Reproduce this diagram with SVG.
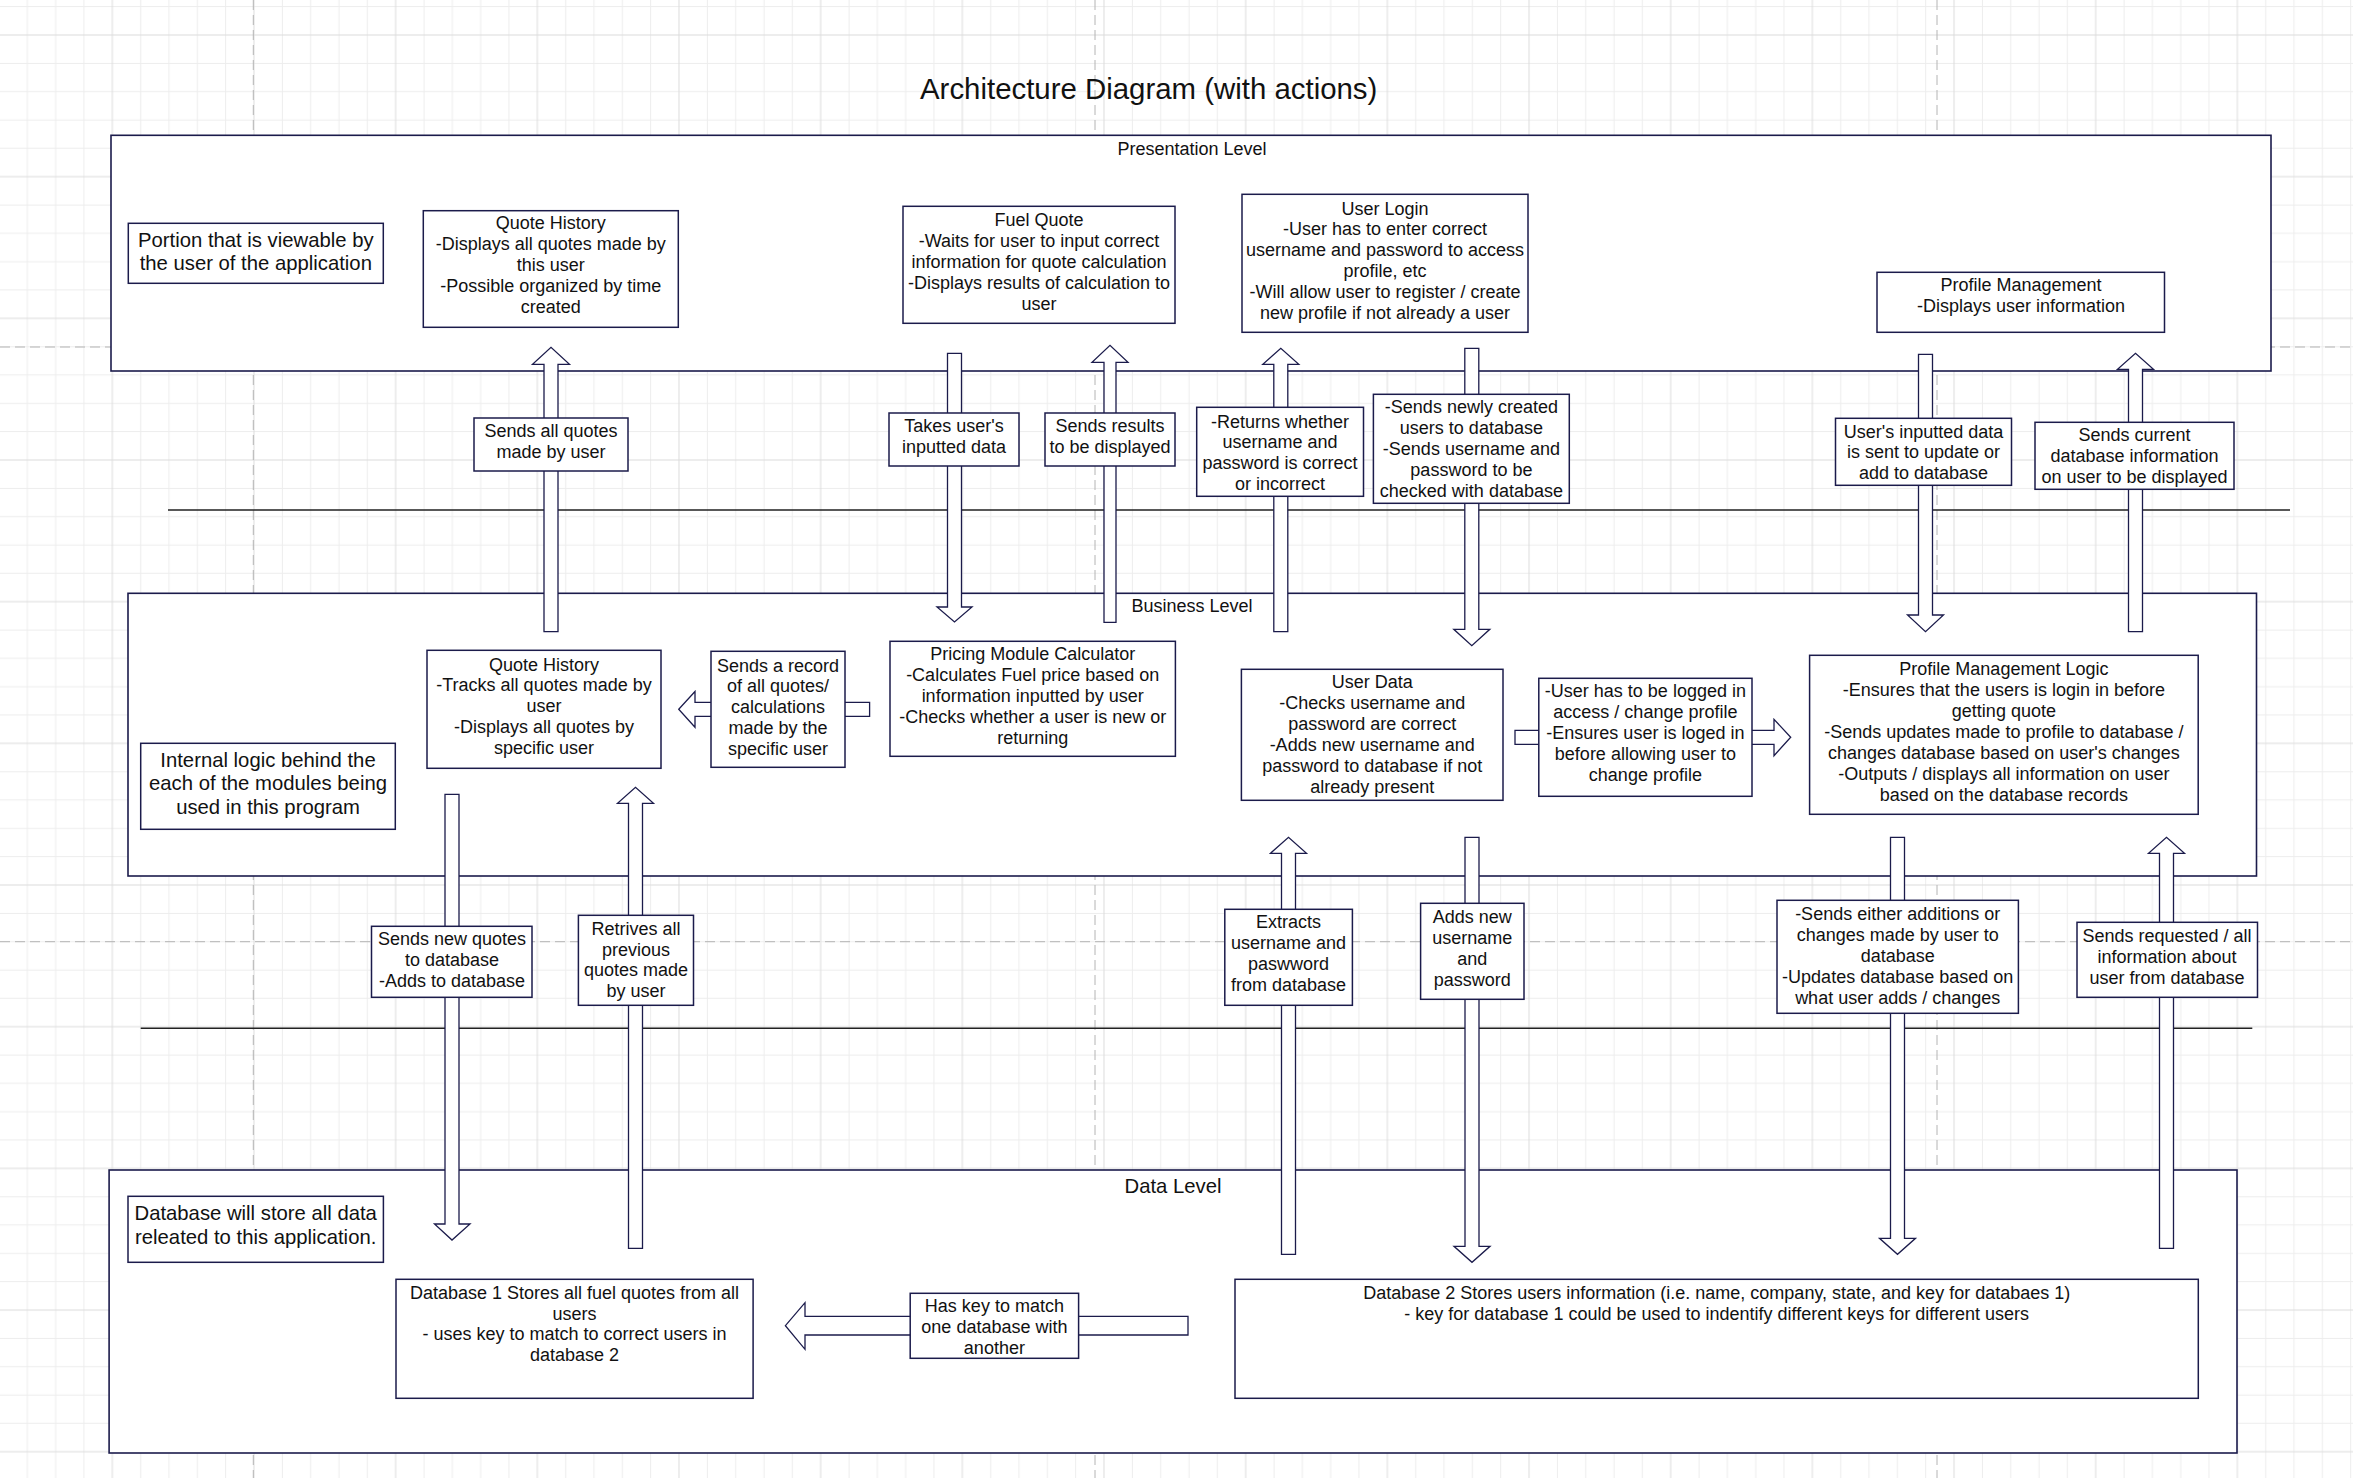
<svg xmlns="http://www.w3.org/2000/svg" width="2353" height="1478" viewBox="0 0 2353 1478">
<style>
.t{font-family:"Liberation Sans",Arial,Helvetica,sans-serif;font-size:18px;fill:#111;text-anchor:middle}
.tb{font-size:20.3px}
.box{fill:#fff;stroke:#1b1b4b;stroke-width:1.5}
.cont{fill:#fff;stroke:#1b1b4b;stroke-width:1.6}
.arr{fill:#fff;stroke:#1b1b4b;stroke-width:1.3;stroke-linejoin:miter}
.sep{stroke:#222;stroke-width:1.5;fill:none}
.page{stroke:#b4b4b4;stroke-width:1;stroke-dasharray:10 5;fill:none}
</style>
<defs>
<pattern id="grid" patternUnits="userSpaceOnUse" x="41.5" y="-35.83" width="141.67" height="141.67">
<path d="M14.17 0V141.67M42.5 0V141.67M99.17 0V141.67M127.5 0V141.67M0 14.17H141.67M0 42.5H141.67M0 99.17H141.67M0 127.5H141.67" stroke="#ededed" stroke-width="1" fill="none"/>
<path d="M70.83 0V141.67M0 70.83H141.67" stroke="#dcdcdc" stroke-width="1" fill="none"/>
</pattern>
</defs>
<rect width="2353" height="1478" fill="#fff"/>
<rect width="2353" height="1478" fill="url(#grid)"/>
<g id="page-breaks">
<path class="page" d="M253.3 0V1478M1095 0V1478M1937 0V1478M0 347H2353M0 941.7H2353"/>
</g>
<text class="t" x="1148.7" y="99" style="font-size:29.4px">Architecture Diagram (with actions)</text>

<g id="presentation-level">
<rect class="cont" x="111" y="135.3" width="2160" height="235.7"/>
<text class="t" x="1192" y="155">Presentation Level</text>
</g>
<g id="business-level">
<rect class="cont" x="128" y="593.3" width="2128.5" height="282.7"/>
<text class="t" x="1192" y="612.3">Business Level</text>
</g>
<g id="data-level">
<rect class="cont" x="109.1" y="1170" width="2127.9" height="283"/>
<text class="t tb" x="1173" y="1193">Data Level</text>
</g>

<g id="separators">
<path class="sep" d="M168 510H2290M140.7 1028.3H2252.3"/>
</g>

<g id="connectors">
<g id="c-sends-all-quotes">
<path class="arr" d="M544,631.7V364.3H532.5L551,347.3L569.5,364.3H558V631.7Z"/>
<rect class="box" x="474" y="418" width="154" height="53"/>
<text class="t"><tspan x="551" y="437.3">Sends all quotes</tspan><tspan x="551" y="458.3">made by user</tspan></text>
</g>
<g id="c-takes-input">
<path class="arr" d="M947.5,353.3V607H937L954.5,622L972,607H961.5V353.3Z"/>
<rect class="box" x="889" y="413" width="130" height="53"/>
<text class="t"><tspan x="954" y="432.3">Takes user's</tspan><tspan x="954" y="453.1">inputted data</tspan></text>
</g>
<g id="c-sends-results">
<path class="arr" d="M1104,622.3V362.3H1092L1110,345.3L1128,362.3H1116V622.3Z"/>
<rect class="box" x="1045" y="413" width="130" height="53"/>
<text class="t"><tspan x="1110" y="432.3">Sends results</tspan><tspan x="1110" y="453.1">to be displayed</tspan></text>
</g>
<g id="c-returns-whether">
<path class="arr" d="M1273.8,631.7V364.3H1262.8L1280.8,348.3L1298.8,364.3H1287.8V631.7Z"/>
<rect class="box" x="1196.7" y="407.3" width="166.8" height="89"/>
<text class="t"><tspan x="1280" y="427.6">-Returns whether</tspan><tspan x="1280" y="448.4">username and</tspan><tspan x="1280" y="469.2">password is correct</tspan><tspan x="1280" y="490">or incorrect</tspan></text>
</g>
<g id="c-sends-new-users">
<path class="arr" d="M1464.8,348.3V629.3H1453.8L1471.8,645.7L1489.8,629.3H1478.8V348.3Z"/>
<rect class="box" x="1373.4" y="394.3" width="195.9" height="109"/>
<text class="t"><tspan x="1471.4" y="413.3">-Sends newly created</tspan><tspan x="1471.4" y="434.1">users to database</tspan><tspan x="1471.4" y="454.9">-Sends username and</tspan><tspan x="1471.4" y="475.7">password to be</tspan><tspan x="1471.4" y="496.5">checked with database</tspan></text>
</g>
<g id="c-user-input-update">
<path class="arr" d="M1918.5,354.3V615H1907.5L1925.5,631.7L1943.5,615H1932.5V354.3Z"/>
<rect class="box" x="1835.5" y="418.3" width="176" height="67"/>
<text class="t"><tspan x="1923.5" y="437.6">User's inputted data</tspan><tspan x="1923.5" y="458.4">is sent to update or</tspan><tspan x="1923.5" y="479.2">add to database</tspan></text>
</g>
<g id="c-sends-current">
<path class="arr" d="M2128.5,631.7V369.3H2117.5L2135.5,353.3L2153.5,369.3H2142.5V631.7Z"/>
<rect class="box" x="2035" y="422.3" width="199" height="67"/>
<text class="t"><tspan x="2134.5" y="441.3">Sends current</tspan><tspan x="2134.5" y="462.1">database information</tspan><tspan x="2134.5" y="482.9">on user to be displayed</tspan></text>
</g>
<g id="c-sends-record">
<path class="arr" d="M869.6,702.3H695V691.5L678.7,709.3L695,727.3V716.3H869.6Z"/>
<rect class="box" x="711" y="651.3" width="134" height="116"/>
<text class="t"><tspan x="778" y="671.6">Sends a record</tspan><tspan x="778" y="692.4">of all quotes/</tspan><tspan x="778" y="713.2">calculations</tspan><tspan x="778" y="734">made by the</tspan><tspan x="778" y="754.8">specific user</tspan></text>
</g>
<g id="c-login-required">
<path class="arr" d="M1515,730.3H1774V719.3L1790.7,737.3L1774,755.7V744.3H1515Z"/>
<rect class="box" x="1538.8" y="678.3" width="213.2" height="118"/>
<text class="t"><tspan x="1645.4" y="697.3">-User has to be logged in</tspan><tspan x="1645.4" y="718.3">access / change profile</tspan><tspan x="1645.4" y="739.3">-Ensures user is loged in</tspan><tspan x="1645.4" y="760.3">before allowing user to</tspan><tspan x="1645.4" y="781.3">change profile</tspan></text>
</g>
<g id="c-sends-new-quotes">
<path class="arr" d="M445,794.3V1224H434.5L452,1240L470,1224H459V794.3Z"/>
<rect class="box" x="371.5" y="926.3" width="160.5" height="71"/>
<text class="t"><tspan x="452" y="945.3">Sends new quotes</tspan><tspan x="452" y="966.3">to database</tspan><tspan x="452" y="987.3">-Adds to database</tspan></text>
</g>
<g id="c-retrives">
<path class="arr" d="M628.5,1248.3V803.3H617.5L635.5,787.3L653.5,803.3H642.5V1248.3Z"/>
<rect class="box" x="578.4" y="915.3" width="115.1" height="90"/>
<text class="t"><tspan x="636" y="934.6">Retrives all</tspan><tspan x="636" y="955.5">previous</tspan><tspan x="636" y="976.4">quotes made</tspan><tspan x="636" y="997.3">by user</tspan></text>
</g>
<g id="c-extracts">
<path class="arr" d="M1281.5,1254.3V853.3H1270.5L1288.5,837.3L1306.5,853.3H1295.5V1254.3Z"/>
<rect class="box" x="1224.8" y="909.3" width="127.6" height="96"/>
<text class="t"><tspan x="1288.6" y="928">Extracts</tspan><tspan x="1288.6" y="949">username and</tspan><tspan x="1288.6" y="970">paswword</tspan><tspan x="1288.6" y="991">from database</tspan></text>
</g>
<g id="c-adds-new-username">
<path class="arr" d="M1465,837.3V1246.3H1454L1472,1262.3L1490,1246.3H1479V837.3Z"/>
<rect class="box" x="1420.6" y="903.3" width="103.4" height="96"/>
<text class="t"><tspan x="1472.3" y="923.3">Adds new</tspan><tspan x="1472.3" y="944.3">username</tspan><tspan x="1472.3" y="965.3">and</tspan><tspan x="1472.3" y="986.3">password</tspan></text>
</g>
<g id="c-sends-either">
<path class="arr" d="M1890.5,837.3V1238.3H1879.5L1897.5,1254.3L1915.5,1238.3H1904.5V837.3Z"/>
<rect class="box" x="1777" y="900.3" width="241.4" height="113"/>
<text class="t"><tspan x="1897.7" y="919.6">-Sends either additions or</tspan><tspan x="1897.7" y="940.6">changes made by user to</tspan><tspan x="1897.7" y="961.6">database</tspan><tspan x="1897.7" y="982.6">-Updates database based on</tspan><tspan x="1897.7" y="1003.6">what user adds / changes</tspan></text>
</g>
<g id="c-sends-requested">
<path class="arr" d="M2159.5,1248.3V853.3H2148.5L2166.5,837.3L2184.5,853.3H2173.5V1248.3Z"/>
<rect class="box" x="2077" y="922.3" width="180.5" height="75"/>
<text class="t"><tspan x="2167" y="942.3">Sends requested / all</tspan><tspan x="2167" y="963.3">information about</tspan><tspan x="2167" y="984.3">user from database</tspan></text>
</g>
<g id="c-has-key">
<path class="arr" d="M1188,1316.3H805V1302.7L785.4,1325.7L805,1349.3V1335H1188Z"/>
<rect class="box" x="910.2" y="1293.3" width="168.4" height="65"/>
<text class="t"><tspan x="994.4" y="1312">Has key to match</tspan><tspan x="994.4" y="1333">one database with</tspan><tspan x="994.4" y="1354">another</tspan></text>
</g>
</g>

<g id="n-portion-viewable">
<rect class="box" x="128.3" y="223.3" width="255" height="60"/>
<text class="t tb"><tspan x="255.8" y="246.7">Portion that is viewable by</tspan><tspan x="255.8" y="270">the user of the application</tspan></text>
</g>
<g id="n-quote-history-ui">
<rect class="box" x="423.3" y="210.7" width="255" height="116.6"/>
<text class="t"><tspan x="550.8" y="229.3">Quote History</tspan><tspan x="550.8" y="250.1">-Displays all quotes made by</tspan><tspan x="550.8" y="270.9">this user</tspan><tspan x="550.8" y="291.7">-Possible organized by time</tspan><tspan x="550.8" y="312.5">created</tspan></text>
</g>
<g id="n-fuel-quote">
<rect class="box" x="903" y="206.3" width="272" height="117"/>
<text class="t"><tspan x="1039" y="226.4">Fuel Quote</tspan><tspan x="1039" y="247.2">-Waits for user to input correct</tspan><tspan x="1039" y="268">information for quote calculation</tspan><tspan x="1039" y="288.8">-Displays results of calculation to</tspan><tspan x="1039" y="309.6">user</tspan></text>
</g>
<g id="n-user-login">
<rect class="box" x="1242" y="194.3" width="286" height="138"/>
<text class="t"><tspan x="1385" y="214.6">User Login</tspan><tspan x="1385" y="235.4">-User has to enter correct</tspan><tspan x="1385" y="256.2">username and password to access</tspan><tspan x="1385" y="277">profile, etc</tspan><tspan x="1385" y="297.8">-Will allow user to register / create</tspan><tspan x="1385" y="318.6">new profile if not already a user</tspan></text>
</g>
<g id="n-profile-management">
<rect class="box" x="1877" y="272.3" width="287.5" height="60"/>
<text class="t"><tspan x="2021" y="291.3">Profile Management</tspan><tspan x="2021" y="312.1">-Displays user information</tspan></text>
</g>

<g id="n-internal-logic">
<rect class="box" x="140.7" y="743.3" width="254.6" height="86"/>
<text class="t tb"><tspan x="268" y="767.1">Internal logic behind the</tspan><tspan x="268" y="790.4">each of the modules being</tspan><tspan x="268" y="813.7">used in this program</tspan></text>
</g>
<g id="n-quote-history-logic">
<rect class="box" x="427" y="650.3" width="234" height="118"/>
<text class="t"><tspan x="544" y="670.6">Quote History</tspan><tspan x="544" y="691.4">-Tracks all quotes made by</tspan><tspan x="544" y="712.2">user</tspan><tspan x="544" y="733">-Displays all quotes by</tspan><tspan x="544" y="753.8">specific user</tspan></text>
</g>
<g id="n-pricing-module">
<rect class="box" x="890" y="641.3" width="285.4" height="115"/>
<text class="t"><tspan x="1032.7" y="660.3">Pricing Module Calculator</tspan><tspan x="1032.7" y="681.1">-Calculates Fuel price based on</tspan><tspan x="1032.7" y="701.9">information inputted by user</tspan><tspan x="1032.7" y="722.7">-Checks whether a user is new or</tspan><tspan x="1032.7" y="743.5">returning</tspan></text>
</g>
<g id="n-user-data">
<rect class="box" x="1241.4" y="669.3" width="261.6" height="131"/>
<text class="t"><tspan x="1372.2" y="688">User Data</tspan><tspan x="1372.2" y="709">-Checks username and</tspan><tspan x="1372.2" y="730">password are correct</tspan><tspan x="1372.2" y="751">-Adds new username and</tspan><tspan x="1372.2" y="772">password to database if not</tspan><tspan x="1372.2" y="793">already present</tspan></text>
</g>
<g id="n-profile-management-logic">
<rect class="box" x="1809.6" y="655.3" width="388.6" height="159"/>
<text class="t"><tspan x="2003.9" y="674.6">Profile Management Logic</tspan><tspan x="2003.9" y="695.6">-Ensures that the users is login in before</tspan><tspan x="2003.9" y="716.6">getting quote</tspan><tspan x="2003.9" y="737.6">-Sends updates made to profile to database /</tspan><tspan x="2003.9" y="758.6">changes database based on user's changes</tspan><tspan x="2003.9" y="779.6">-Outputs / displays all information on user</tspan><tspan x="2003.9" y="800.6">based on the database records</tspan></text>
</g>

<g id="n-database-note">
<rect class="box" x="128" y="1196.3" width="255.4" height="66"/>
<text class="t tb"><tspan x="255.7" y="1220.4">Database will store all data</tspan><tspan x="255.7" y="1244">releated to this application.</tspan></text>
</g>
<g id="n-database-1">
<rect class="box" x="396" y="1279.3" width="357.1" height="119"/>
<text class="t"><tspan x="574.5" y="1298.6">Database 1 Stores all fuel quotes from all</tspan><tspan x="574.5" y="1319.5">users</tspan><tspan x="574.5" y="1340.4">- uses key to match to correct users in</tspan><tspan x="574.5" y="1361.3">database 2</tspan></text>
</g>
<g id="n-database-2">
<rect class="box" x="1235" y="1279.3" width="963.3" height="119"/>
<text class="t"><tspan x="1716.7" y="1298.6">Database 2 Stores users information (i.e. name, company, state, and key for databaes 1)</tspan><tspan x="1716.7" y="1319.5">- key for database 1 could be used to indentify different keys for different users</tspan></text>
</g>
</svg>
